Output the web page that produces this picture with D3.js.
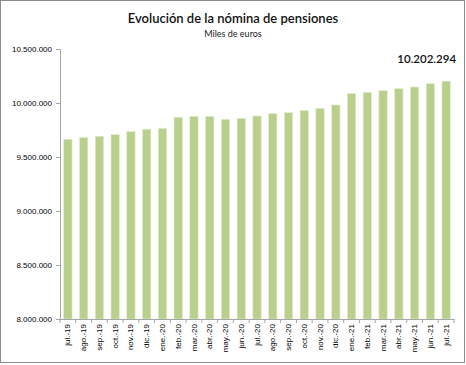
<!DOCTYPE html>
<html><head><meta charset="utf-8">
<script src="https://cdn.jsdelivr.net/npm/d3@7"></script>
<style>body{margin:0;background:#fff}svg{display:block}</style>
</head><body><svg id="c" width="466" height="365"></svg>
<script>
const categories = ["jul.-19","ago.-19","sep.-19","oct.-19","nov.-19","dic.-19","ene.-20","feb.-20","mar.-20","abr.-20","may.-20","jun.-20","jul.-20","ago.-20","sep.-20","oct.-20","nov.-20","dic.-20","ene.-21","feb.-21","mar.-21","abr.-21","may.-21","jun.-21","jul.-21"];
const values = [9664000,9680000,9692000,9707000,9735000,9757000,9766000,9868000,9877000,9877000,9849000,9858000,9880000,9902000,9911000,9930000,9951000,9982000,10087000,10099000,10115000,10133000,10148000,10179000,10202294];
const yTicks = [8000000,8500000,9000000,9500000,10000000,10500000];
const title = "Evolución de la nómina de pensiones";
const subtitle = "Miles de euros";
const lastLabel = "10.202.294";

const svg = d3.select("#c");
const mLeft = 60, mRight = 454, mTop = 49, mBottom = 319;
svg.append("rect").attr("x",0.5).attr("y",0.5).attr("width",464).attr("height",362).attr("fill","#fff").attr("stroke","#8c8c8c").attr("stroke-width",1);

const x = d3.scaleBand().domain(categories).range([mLeft,mRight]).paddingInner(0.47).paddingOuter(0.235);
const y = d3.scaleLinear().domain([8000000,10500000]).range([mBottom,mTop]);
const fmt = v => d3.format(",")(v).replace(/,/g,".");

svg.append("text").attr("x",233).attr("y",23).attr("text-anchor","middle").attr("font-family","Lato, 'Open Sans', sans-serif").attr("font-size",13).attr("font-weight",600).attr("fill","#111").text(title);
svg.append("text").attr("x",233).attr("y",37).attr("text-anchor","middle").attr("font-family","Lato, 'Open Sans', sans-serif").attr("font-size",9).attr("fill","#222").text(subtitle);

svg.selectAll("rect.bar").data(values).join("rect").attr("class","bar")
  .attr("x",(d,i)=>x(categories[i])).attr("width",x.bandwidth())
  .attr("y",d=>y(d)).attr("height",d=>mBottom-y(d))
  .attr("fill","#b9d08c").attr("stroke","#e3ecd2").attr("stroke-width",0.6);

const ya = svg.append("g").attr("transform",`translate(${mLeft},0)`)
  .call(d3.axisLeft(y).tickValues(yTicks).tickFormat(fmt).tickSize(4).tickPadding(4));
ya.select(".domain").attr("stroke","#a6a6a6");
ya.selectAll(".tick line").attr("stroke","#a6a6a6");
ya.selectAll("text").attr("font-family","'Liberation Sans', Arial, sans-serif").attr("font-size",8).attr("fill","#000");

const xa = svg.append("g").attr("transform",`translate(0,${mBottom})`)
  .call(d3.axisBottom(x).tickSize(0).tickPadding(0));
xa.select(".domain").attr("stroke","#a6a6a6");
xa.selectAll("text").attr("font-family","'Liberation Sans', Arial, sans-serif").attr("font-size",8).attr("fill","#000")
  .attr("transform","rotate(-90)").attr("text-anchor","end").attr("x",-5).attr("y",0).attr("dy","0.32em");
const step = x.step();
svg.append("g").selectAll("line").data(d3.range(categories.length+1)).join("line")
  .attr("x1",i=>mLeft+i*step).attr("x2",i=>mLeft+i*step).attr("y1",mBottom).attr("y2",mBottom+4).attr("stroke","#a6a6a6");

const li = categories.length-1;
svg.append("text").attr("x",x(categories[li])+x.bandwidth()/2+10).attr("y",y(values[li])-18)
  .attr("text-anchor","end").attr("font-family","Lato, 'Open Sans', sans-serif").attr("font-size",11.5).attr("font-weight",600).attr("fill","#111").text(lastLabel);
</script></body></html>
